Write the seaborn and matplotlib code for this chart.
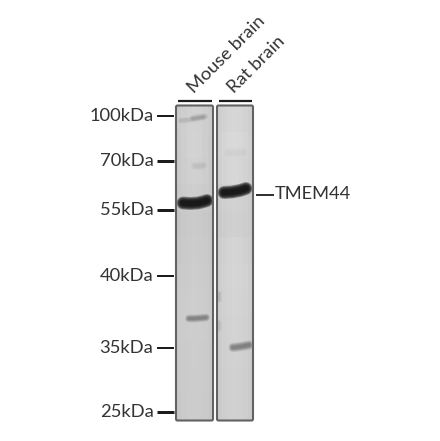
import matplotlib
matplotlib.use("Agg")
import matplotlib.pyplot as plt
from matplotlib.patches import FancyBboxPatch
import numpy as np
import pandas as pd
import seaborn as sns

marker_labels = ["100kDa", "70kDa", "55kDa", "40kDa", "35kDa", "25kDa"]
marker_y = [116, 161, 210, 276, 348, 412]
tick_widths = [2.0, 3.0, 3.0, 2.0, 2.0, 3.0]

lane_names = ["Mouse brain", "Rat brain"]
lane_left = [176, 217]
lane_right = [213, 253]
lane_top = 105.5
lane_bottom = 420.5

# grey level of each lane, top to bottom, in 7 columns
lane1_grey = [
    [203, 206, 209, 210, 209, 206, 203],
    [202, 206, 210, 211, 210, 206, 202],
    [201, 205, 208, 209, 208, 205, 201],
    [200, 203, 205, 206, 205, 203, 200],
    [197, 200, 202, 203, 202, 200, 198],
    [199, 202, 203, 204, 203, 202, 199],
    [201, 203, 204, 205, 204, 203, 201],
    [202, 204, 205, 206, 205, 204, 202],
    [202, 204, 205, 205, 205, 204, 202],
    [201, 203, 204, 205, 204, 203, 201],
    [201, 203, 204, 204, 204, 203, 201],
    [200, 202, 204, 204, 204, 202, 200],
]
lane2_grey = [
    [207, 210, 213, 214, 213, 210, 207],
    [209, 213, 216, 217, 216, 212, 208],
    [207, 211, 214, 215, 213, 210, 207],
    [204, 207, 209, 210, 209, 207, 204],
    [202, 205, 207, 208, 207, 205, 203],
    [205, 208, 211, 212, 211, 208, 205],
    [207, 210, 212, 213, 212, 210, 206],
    [206, 209, 211, 212, 211, 209, 206],
    [205, 208, 210, 211, 210, 208, 205],
    [204, 207, 209, 210, 209, 207, 204],
    [203, 206, 208, 209, 208, 206, 203],
    [203, 206, 208, 209, 208, 206, 203],
]

# band centre lines: x and y points, how dark, how thick
band_x = [
    [183, 190, 198, 204, 207],
    [224, 232, 240, 246],
    [189, 195, 201, 206],
    [233, 238, 244, 249],
    [181, 188, 196, 203],
    [193, 198, 205],
    [195, 199, 203],
    [228, 235, 243],
    [219, 219],
    [219, 219],
]
band_y = [
    [203, 203.5, 203, 201.5, 200.5],
    [192.5, 192, 190.5, 188.5],
    [318.5, 318.5, 318, 317.5],
    [347.5, 347, 346, 345],
    [120.5, 120, 119, 117.5],
    [118, 117, 116.5],
    [166, 166, 165.5],
    [153, 153.5, 152.5],
    [293, 300],
    [322, 329],
]
band_dark = [0.97, 0.97, 0.38, 0.4, 0.11, 0.14, 0.06, 0.04, 0.1, 0.08]
band_thick = [13.0, 13.0, 8.0, 9.5, 6.5, 7.0, 9.0, 11.0, 5.0, 5.0]

sns.set_theme(style="white")
plt.rcParams["font.family"] = ["Lato", "DejaVu Sans"]
text_color = "#333333"

fig = plt.figure(figsize=(4.4, 4.41), dpi=100)
W, H = 440, 441

# lane backgrounds
for left, right, grey in zip(lane_left, lane_right, [lane1_grey, lane2_grey]):
    lane_ax = fig.add_axes([left / W, 1 - lane_bottom / H,
                            (right - left) / W, (lane_bottom - lane_top) / H])
    sns.heatmap(pd.DataFrame(grey), ax=lane_ax, cmap="gray", vmin=0, vmax=255,
                cbar=False, xticklabels=False, yticklabels=False)

# overlay in picture pixels
ax = fig.add_axes([0, 0, 1, 1], facecolor="none")

# stacked see-through strokes give the soft edge of a band
layers = np.linspace(1.0, 0.3, 9)
for xs, ys, dark, thick in zip(band_x, band_y, band_dark, band_thick):
    line_df = pd.DataFrame({"x": xs, "y": ys})
    for k in layers:
        sns.lineplot(data=line_df, x="x", y="y", ax=ax, color="#151515",
                     linewidth=thick * k * 0.72,
                     alpha=1 - (1 - dark) ** (1 / len(layers)),
                     sort=False, estimator=None, errorbar=None,
                     solid_capstyle="round", zorder=3)
ax.set_xlim(0, W)
ax.set_ylim(H, 0)
ax.axis("off")

# lane frames and header bars
for left, right in zip(lane_left, lane_right):
    ax.add_patch(FancyBboxPatch((left, lane_top), right - left,
                                lane_bottom - lane_top,
                                boxstyle="round,pad=0,rounding_size=1.5",
                                fill=False, edgecolor="#626262", linewidth=1.5,
                                zorder=4))
    ax.plot([left + 2, right - 1], [100.5, 100.5], color="#1c1c1c", lw=1.6,
            solid_capstyle="butt")

for name, x, y in zip(lane_names, [196, 236], [96, 96]):
    ax.text(x, y, name, rotation=45, ha="left", va="bottom",
            rotation_mode="anchor", fontsize=13.3, color=text_color)

# marker ticks and labels
for label, y, tw in zip(marker_labels, marker_y, tick_widths):
    ax.plot([157, 174], [y, y], color="#1c1c1c", lw=tw * 0.72,
            solid_capstyle="butt")
    ax.text(153.5, y, label, ha="right", va="center", fontsize=13.2,
            color=text_color)

ax.plot([256, 274], [194.5, 194.5], color="#1c1c1c", lw=1.3,
        solid_capstyle="butt")
ax.text(275, 194, "TMEM44", ha="left", va="center", fontsize=13.2,
        color=text_color)

fig.savefig("out.png", dpi=100)
